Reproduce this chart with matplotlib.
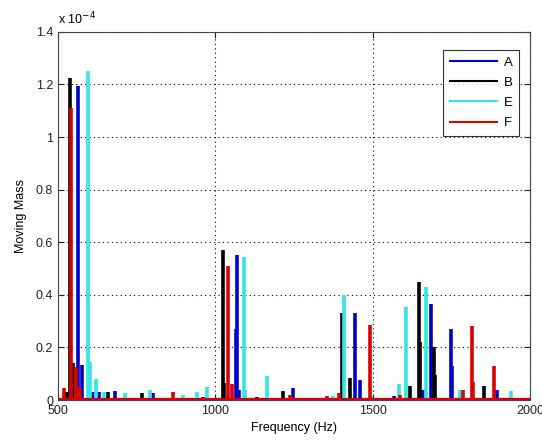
import matplotlib.pyplot as plt
from matplotlib.ticker import FuncFormatter

# spike frequencies (Hz) and heights (x 1e-4)
a_freq = [564, 576, 611, 630, 681, 802, 1066, 1069, 1076, 1247, 1444, 1460, 1568, 1660, 1685, 1749, 1751, 1895]
a_val = [1.195, 0.135, 0.03, 0.03, 0.035, 0.025, 0.27, 0.55, 0.04, 0.045, 0.33, 0.075, 0.015, 0.04, 0.365, 0.27, 0.13, 0.04]

b_freq = [529, 538, 548, 659, 767, 961, 1024, 1027, 1132, 1215, 1402, 1428, 1619, 1647, 1650, 1695, 1698, 1854]
b_val = [0.03, 1.225, 0.14, 0.03, 0.025, 0.01, 0.57, 0.065, 0.01, 0.035, 0.33, 0.085, 0.055, 0.45, 0.22, 0.20, 0.095, 0.055]

e_freq = [595, 602, 621, 646, 713, 792, 897, 941, 973, 1091, 1094, 1164, 1374, 1409, 1495, 1584, 1606, 1669, 1777, 1940]
e_val = [1.25, 0.145, 0.08, 0.03, 0.025, 0.04, 0.02, 0.03, 0.05, 0.545, 0.04, 0.09, 0.015, 0.40, 0.015, 0.06, 0.355, 0.43, 0.04, 0.035]

f_freq = [519, 542, 557, 563, 570, 865, 1040, 1053, 1237, 1355, 1393, 1491, 1588, 1787, 1816, 1818, 1886]
f_val = [0.045, 1.11, 0.125, 0.05, 0.045, 0.03, 0.51, 0.06, 0.02, 0.015, 0.025, 0.285, 0.02, 0.04, 0.28, 0.07, 0.13]

series = [
    ('A', a_freq, a_val, '#0000cc'),
    ('B', b_freq, b_val, '#000000'),
    ('E', e_freq, e_val, '#33e6e6'),
    ('F', f_freq, f_val, '#dd0000'),
]

plt.rcParams['font.family'] = ['Liberation Sans', 'DejaVu Sans']

fig = plt.figure(figsize=(5.42, 4.43), dpi=100)
ax = fig.add_axes([0.107, 0.097, 0.871, 0.831])

for name, fr, vals, col in series:
    ax.vlines(fr, 0, vals, color=col, linewidth=2.6)
    ax.plot([500, 2000], [0.003, 0.003], color=col, linewidth=1.5)
    ax.plot([], [], color=col, linewidth=1.5, label=name)

ax.set_xlim(500, 2000)
ax.set_ylim(0, 1.4)
ax.set_xticks([500, 1000, 1500, 2000])
ax.set_yticks([0, 0.2, 0.4, 0.6, 0.8, 1.0, 1.2, 1.4])
ax.yaxis.set_major_formatter(FuncFormatter(lambda v, p: '%g' % round(v, 2)))
ax.grid(True, color='black', linestyle=(0, (1, 3)), linewidth=0.8)
ax.tick_params(direction='in', top=True, right=True, labelsize=9, length=4, colors='#222222')
for s in ax.spines.values():
    s.set_color('#444444')

ax.set_xlabel('Frequency (Hz)', fontsize=9, labelpad=4)
ax.set_ylabel('Moving Mass', fontsize=9, labelpad=6)
ax.text(0.0, 1.012, r'x 10$^{-4}$', transform=ax.transAxes, fontsize=9, va='bottom', ha='left')

leg = ax.legend(loc='upper right', bbox_to_anchor=(0.977, 0.951), borderaxespad=0,
                fontsize=9.5, frameon=True, fancybox=False, edgecolor='black',
                handlelength=3.6, handletextpad=0.5, borderpad=0.5, labelspacing=0.6)
leg.get_frame().set_linewidth(0.8)

fig.savefig('out.png', dpi=100)
